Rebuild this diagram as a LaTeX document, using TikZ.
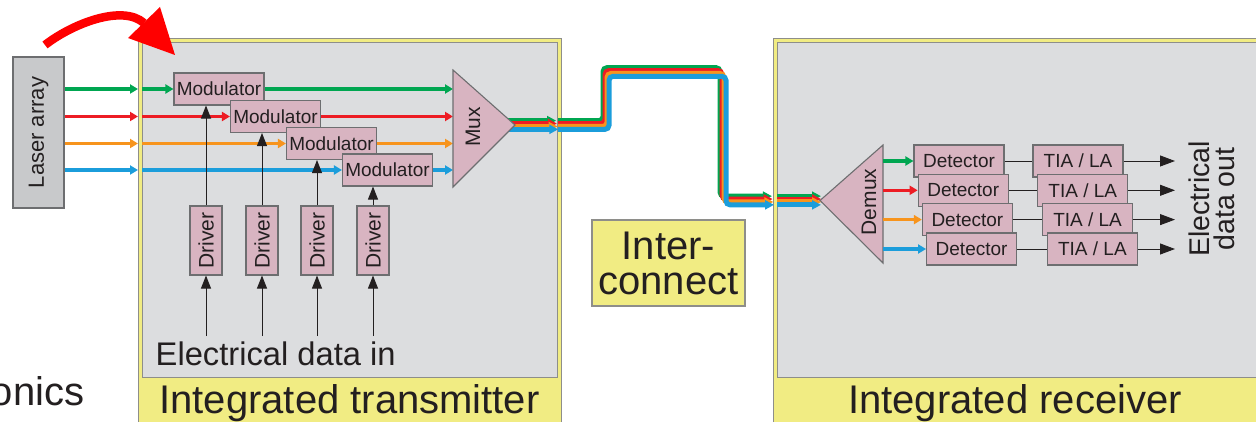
\documentclass[tikz,border=0pt]{standalone}
\usepackage{fontspec}
\setmainfont{Liberation Sans}
\usepackage{graphicx}
\usetikzlibrary{arrows.meta,calc}
\definecolor{boxgray}{HTML}{DCDDDF}
\definecolor{frameyel}{HTML}{F1EC83}
\definecolor{pinkbox}{HTML}{D8B4C1}
\definecolor{lasergray}{HTML}{C8C9CB}
\definecolor{framegray}{HTML}{8E8E8A}
\definecolor{pinkedge}{HTML}{6D6E70}
\definecolor{ink}{HTML}{231F20}
\definecolor{cgreen}{HTML}{00A651}
\definecolor{cred}{HTML}{ED1C24}
\definecolor{corange}{HTML}{F7941D}
\definecolor{cblue}{HTML}{1B9DDB}
\definecolor{bigred}{HTML}{FF0000}
\newcommand{\myfs}[1]{\fontsize{#1}{#1}\selectfont}
\begin{document}
\begin{tikzpicture}[x=1pt,y=-1pt,
  outerframe/.style={draw=framegray, line width=1.2pt, fill=frameyel, inner sep=0pt, anchor=north west},
  innerframe/.style={draw=framegray, line width=1.2pt, fill=boxgray, inner sep=0pt, anchor=north west},
  pinknode/.style={draw=pinkedge, line width=1.1pt, fill=pinkbox, inner sep=0pt, text=ink},
  modbox/.style={pinknode, minimum width=90pt, minimum height=32pt, font=\myfs{19}},
  drvbox/.style={pinknode, minimum width=32pt, minimum height=69pt, font=\myfs{21}},
  detbox/.style={pinknode, minimum width=90pt, minimum height=32pt, font=\myfs{19}},
  lightline/.style={line width=3.3pt, -{Triangle[length=8pt,width=9pt]}},
  ribbon/.style={line width=5pt, rounded corners=4pt},
  ribtip/.style={-{Triangle[length=9pt,width=9pt]}},
  elarrow/.style={draw=ink, line width=0.9pt, -{Triangle[length=13pt,width=10pt]}},
  outarrow/.style={draw=ink, line width=0.9pt, -{Triangle[length=15pt,width=11pt]}},
  wire/.style={draw=ink, line width=0.9pt},
  bigtext/.style={font=\myfs{40}, text=ink, inner sep=0pt}
]
\useasboundingbox (0,0) rectangle (1256,422);

% frames
\node[outerframe, minimum width=423pt, minimum height=386pt] (tx) at (138,38) {};
\node[innerframe, minimum width=415pt, minimum height=335pt] (txin) at (142,42) {};
\node[outerframe, minimum width=490pt, minimum height=386pt] (rx) at (773,38) {};
\node[innerframe, minimum width=482pt, minimum height=335pt] (rxin) at (777,42) {};
\node[bigtext, anchor=base] (txlabel) at (349.5,413) {Integrated transmitter};
\node[bigtext, anchor=base] (rxlabel) at (1015,413) {Integrated receiver};
\node[bigtext, anchor=base east] (onics) at (84.5,405) {onics};

% laser array
\node[draw=pinkedge, line width=1.1pt, fill=lasergray, minimum width=51pt, minimum height=151pt,
      inner sep=0pt, text=ink, font=\myfs{22}] (laser) at (38.5,132.5) {\rotatebox{90}{Laser array}};

% red curved arrow
\coordinate (redA) at (45,45);
\coordinate (redB) at (144,23);
\draw[bigred, line width=8.5pt] (redA) .. controls (72,24) and (122,4) .. (redB);
\fill[bigred] (128,38) -- (160,7) -- (175,55) -- cycle;

% mux corners
\coordinate (muxtop) at (453,70);
\coordinate (muxtip) at (515,125);
\coordinate (muxbot) at (453,187);

% modulator positions
\coordinate (m1) at (219,89);
\coordinate (m2) at (275.5,116.5);
\coordinate (m3) at (331.5,143.5);
\coordinate (m4) at (387.5,170);
\node[modbox] (mod1) at (m1) {Modulator};
\node[modbox] (mod2) at (m2) {Modulator};
\node[modbox] (mod3) at (m3) {Modulator};
\node[modbox] (mod4) at (m4) {Modulator};

% laser lines
\foreach \c/\m in {cgreen/mod1, cred/mod2, corange/mod3, cblue/mod4}{
  \draw[lightline, draw=\c] (laser.east |- \m) -- (tx.west |- \m);
  \draw[lightline, draw=\c] (txin.west |- \m) -- (\m.west);
  \draw[lightline, draw=\c] (\m.east) -- (muxtop |- \m);
}

% ribbon, first part
\foreach \c/\k in {cgreen/-1.5, cred/-0.5, corange/0.5, cblue/1.5}{
  \draw[ribbon, draw=\c, ribtip] ($(muxtip)+(-10,{2.9*(\k)})$) -- ($(txin.east |- muxtip)+({-1+0.7*(\k)},{2.9*(\k)})$);
}
\draw[pinknode] (muxtop) -- (muxtip) -- (muxbot) -- cycle;
\node[text=ink, inner sep=0pt, font=\myfs{21}] (muxlabel) at (473,127) {\rotatebox{90}{Mux}};

% demux
\coordinate (dmtop) at (883,145);
\coordinate (dmtip) at (820,200.5);
\coordinate (dmbot) at (883,263);
\draw[pinknode] (dmtop) -- (dmtip) -- (dmbot) -- cycle;
\node[text=ink, inner sep=0pt, font=\myfs{21}] (dmlabel) at (869,202) {\rotatebox{90}{Demux}};

% ribbon, interconnect part
\foreach \c/\k in {cgreen/-1.5, cred/-0.5, corange/0.5, cblue/1.5}{
  \draw[ribbon, draw=\c, ribtip] ($(txin.east |- muxtip)+(0,{2.9*(\k)})$)
     -- ({606+2*(\k)},{125+2.9*(\k)}) -- ({606+2*(\k)},{72+2.9*(\k)})
     -- ({723+2*(\k)},{72+2.9*(\k)}) -- ({723+2*(\k)},{200.5+2.9*(\k)})
     -- ($(rx.west |- dmtip)+({0.7*(\k)},{2.9*(\k)})$);
  \draw[ribbon, draw=\c, ribtip] ($(rxin.west |- dmtip)+(0,{2.9*(\k)})$) -- ($(dmtip)+(1,{2.9*(\k)})$);
}

% drivers
\node[drvbox] (d1) at (206,240.5) {\rotatebox{90}{Driver}};
\node[drvbox] (d2) at (262,240.5) {\rotatebox{90}{Driver}};
\node[drvbox] (d3) at (317,240.5) {\rotatebox{90}{Driver}};
\node[drvbox] (d4) at (373,240.5) {\rotatebox{90}{Driver}};
\coordinate (in1) at (206,336);
\coordinate (in2) at (262,336);
\coordinate (in3) at (317,336);
\coordinate (in4) at (373,336);
\foreach \i in {1,2,3,4}{
  \draw[elarrow] (in\i) -- (d\i.south);
  \draw[elarrow] (d\i.north) -- (d\i.north |- mod\i.south);
}
\node[text=ink, inner sep=0pt, font=\myfs{32.7}, anchor=base west] (edin) at (155.5,365) {Electrical data in};

% interconnect label
\node[draw=framegray, line width=1.1pt, fill=frameyel, minimum width=153pt, minimum height=86pt,
      inner sep=0pt, align=center, text=ink, font=\fontsize{40}{35}\selectfont] (ic) at (668.5,263) {Inter-\\connect};

% detectors and TIA/LA
\node[detbox] (dt1) at (959,161) {Detector};
\node[detbox] (dt2) at (963.2,190.3) {Detector};
\node[detbox] (dt3) at (967.4,219.6) {Detector};
\node[detbox] (dt4) at (971.6,249) {Detector};
\node[detbox] (ti1) at (1078,161) {TIA / LA};
\node[detbox] (ti2) at (1082.8,190.3) {TIA / LA};
\node[detbox] (ti3) at (1087.6,219.6) {TIA / LA};
\node[detbox] (ti4) at (1092.4,249) {TIA / LA};
\coordinate (outx) at (1175,200);
\foreach \c/\i in {cgreen/1, cred/2, corange/3, cblue/4}{
  \draw[lightline, draw=\c] (dmtop |- dt\i) -- (dt\i.west);
  \draw[wire] (dt\i.east) -- (dt\i.east -| ti\i.west);
  \draw[outarrow] (ti\i.east) -- (ti\i.east -| outx);
}
\node[rotate=90, align=center, inner sep=0pt, text=ink, font=\fontsize{28.5}{25.5}\selectfont] (edout) at (1212,199) {Electrical\\data out};
\end{tikzpicture}
\end{document}
